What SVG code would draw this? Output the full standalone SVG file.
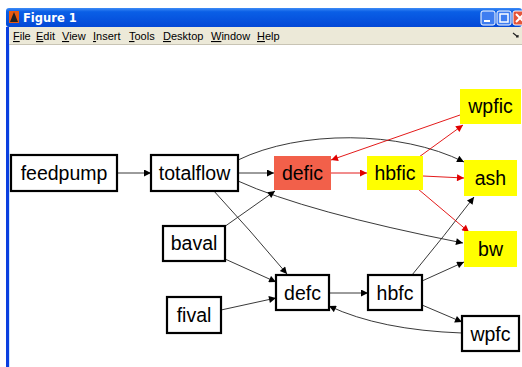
<svg xmlns="http://www.w3.org/2000/svg" width="522" height="367" viewBox="0 0 522 367">
<defs>
<linearGradient id="tb" x1="0" y1="0" x2="0" y2="1">
<stop offset="0" stop-color="#3d8bf6"/><stop offset="0.2" stop-color="#0a5fe6"/><stop offset="1" stop-color="#0348d6"/>
</linearGradient>
<marker id="ab" viewBox="0 0 10 10" refX="10" refY="5" markerWidth="10" markerHeight="7" markerUnits="userSpaceOnUse" orient="auto"><path d="M0,0L10,5L0,10z" fill="#000"/></marker>
<marker id="ar" viewBox="0 0 10 10" refX="10" refY="5" markerWidth="10" markerHeight="7" markerUnits="userSpaceOnUse" orient="auto"><path d="M0,0L10,5L0,10z" fill="#e00000"/></marker>
</defs>
<style>
.nb{fill:#fff;stroke:#000;stroke-width:2.2}
.ny{fill:#ffff00;stroke:none}
.nr{fill:#f2604a;stroke:none}
.t{font-family:"Liberation Sans",Arial,sans-serif;font-size:19.5px;fill:#000;text-anchor:middle}
.e{fill:none;stroke:#222;stroke-width:0.9;marker-end:url(#ab)}
.r{fill:none;stroke:#e00000;stroke-width:0.9;marker-end:url(#ar)}
.m{font-family:"Liberation Sans",Arial,sans-serif;font-size:11px;fill:#000}
</style>
<rect width="522" height="367" fill="#fff"/>
<g id="window">
<rect x="6" y="8" width="516" height="19" fill="url(#tb)" rx="3"/>
<rect x="9" y="11" width="10" height="12" fill="#e85a10"/>
<path d="M10,22 L14,12 L18,22 Z" fill="#222"/>
<text x="23" y="22" font-family="'DejaVu Sans',Tahoma,sans-serif" font-size="11.5" font-weight="bold" fill="#fff">Figure 1</text>
<rect x="481" y="11" width="14" height="14" rx="2" fill="#3f7df0" stroke="#fff" stroke-width="1"/>
<rect x="484" y="20" width="6" height="2" fill="#fff"/>
<rect x="497" y="11" width="14" height="14" rx="2" fill="#3f7df0" stroke="#fff" stroke-width="1"/>
<rect x="500" y="14" width="8" height="8" fill="none" stroke="#fff" stroke-width="1.5"/>
<rect x="513" y="11" width="14" height="14" rx="2" fill="#e4553a" stroke="#fff" stroke-width="1"/>
<path d="M516,14 L524,22 M524,14 L516,22" stroke="#fff" stroke-width="2"/>
<rect x="6" y="27" width="516" height="18" fill="#ece9d8"/>
<line x1="9" y1="44.5" x2="522" y2="44.5" stroke="#c8c4b4" stroke-width="1"/>
<rect x="6" y="27" width="3" height="340" fill="#0a3fe0"/>
<rect x="9" y="45" width="1" height="322" fill="#cfe6ff"/>
<text class="m" x="13" y="40"><tspan text-decoration="underline">F</tspan>ile</text>
<text class="m" x="36" y="40"><tspan text-decoration="underline">E</tspan>dit</text>
<text class="m" x="62" y="40"><tspan text-decoration="underline">V</tspan>iew</text>
<text class="m" x="93" y="40"><tspan text-decoration="underline">I</tspan>nsert</text>
<text class="m" x="129" y="40"><tspan text-decoration="underline">T</tspan>ools</text>
<text class="m" x="163" y="40"><tspan text-decoration="underline">D</tspan>esktop</text>
<text class="m" x="211" y="40"><tspan text-decoration="underline">W</tspan>indow</text>
<text class="m" x="257" y="40"><tspan text-decoration="underline">H</tspan>elp</text>
<path d="M513,33 L518,37 M516,37 L518,37 L518,35" stroke="#222" stroke-width="1.2" fill="none"/>
</g>
<g id="edges">
<path class="e" d="M117,173 L151,173"/>
<path class="e" d="M238,173 L274,173"/>
<path class="e" d="M238,160 C300,130 400,130 464,162"/>
<path class="e" d="M238,181 Q306,212 463,243"/>
<path class="e" d="M224,227 L275,191"/>
<path class="e" d="M213,190 Q250,230 287,274"/>
<path class="e" d="M225,259 L276,282"/>
<path class="e" d="M221,310 L276,298"/>
<path class="e" d="M329,293 L368,293"/>
<path class="e" d="M412,275 Q445,235 474,197"/>
<path class="e" d="M422,281 L464,262"/>
<path class="e" d="M422,305 L462,322"/>
<path class="e" d="M462,333 Q380,330 329,306"/>
<path class="r" d="M331,173 L367,173"/>
<path class="r" d="M423,176 L464,178"/>
<path class="r" d="M419,157 L463,125"/>
<path class="r" d="M460,115 L331,160"/>
<path class="r" d="M418,189 L469,232"/>
</g>
<g id="feedpump"><rect class="nb" x="11" y="155" width="106" height="36"/><text class="t" x="64" y="180">feedpump</text></g>
<g id="totalflow"><rect class="nb" x="151" y="155" width="87" height="36"/><text class="t" x="194.5" y="180">totalflow</text></g>
<g id="defic"><rect class="nr" x="274" y="156" width="57" height="34"/><text class="t" x="302.5" y="180">defic</text></g>
<g id="hbfic"><rect class="ny" x="367" y="156" width="56" height="34"/><text class="t" x="395" y="180">hbfic</text></g>
<g id="wpfic"><rect class="ny" x="460" y="89" width="61" height="35"/><text class="t" x="490.5" y="113">wpfic</text></g>
<g id="ash"><rect class="ny" x="464" y="160" width="53" height="36"/><text class="t" x="490.5" y="185">ash</text></g>
<g id="bw"><rect class="ny" x="464" y="231" width="53" height="36"/><text class="t" x="490.5" y="256">bw</text></g>
<g id="baval"><rect class="nb" x="163" y="226" width="62" height="35"/><text class="t" x="194" y="250">baval</text></g>
<g id="fival"><rect class="nb" x="167" y="297" width="54" height="36"/><text class="t" x="194" y="322">fival</text></g>
<g id="defc"><rect class="nb" x="276" y="275" width="53" height="35"/><text class="t" x="302.5" y="300">defc</text></g>
<g id="hbfc"><rect class="nb" x="368" y="275" width="54" height="35"/><text class="t" x="395" y="300">hbfc</text></g>
<g id="wpfc"><rect class="nb" x="462" y="316" width="57" height="35"/><text class="t" x="490.5" y="341">wpfc</text></g>
</svg>
